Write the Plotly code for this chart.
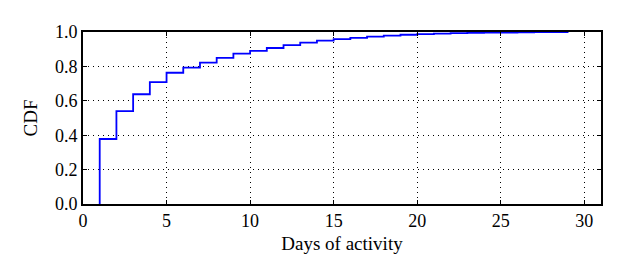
import plotly.graph_objects as go

days = list(range(1, 30))
cdf = [0.378, 0.540, 0.638, 0.709, 0.763, 0.793, 0.822, 0.849, 0.874, 0.890,
       0.907, 0.924, 0.938, 0.950, 0.958, 0.966, 0.973, 0.979, 0.984, 0.988,
       0.991, 0.993, 0.995, 0.996, 0.997, 0.998, 0.999, 0.9995, 1.0]
x_ticks = [0, 5, 10, 15, 20, 25, 30]
y_ticks = [0.0, 0.2, 0.4, 0.6, 0.8, 1.0]

fig = go.Figure()
fig.add_trace(go.Scatter(
    x=[days[0]] + days, y=[0] + cdf, mode="lines",
    line=dict(color="#0000ff", width=1.8, shape="hv"),
    showlegend=False,
))

family = "Liberation Serif, Times New Roman, serif"
tick_font = dict(family=family, size=18, color="black")
title_font = dict(family=family, size=19, color="black")
axis_common = dict(
    showline=True, linecolor="black", linewidth=1.6, mirror="allticks",
    ticks="inside", ticklen=4, tickcolor="black", tickwidth=1,
    showgrid=True, gridcolor="black", griddash="1px,4px", gridwidth=1.2,
    zeroline=False, tickfont=tick_font,
)
fig.update_xaxes(range=[0, 31], tickvals=x_ticks, ticktext=[str(v) for v in x_ticks],
                 title=dict(text="Days of activity", font=title_font, standoff=6), **axis_common)
fig.update_yaxes(range=[0, 1], tickvals=y_ticks, ticktext=[f"{v:.1f}" for v in y_ticks],
                 title=dict(text="CDF", font=title_font, standoff=12), **axis_common)
fig.update_layout(
    width=607, height=264,
    margin=dict(l=75, r=14, t=24, b=68, autoexpand=False),
    paper_bgcolor="white", plot_bgcolor="white",
    font=tick_font,
)
fig.write_html("out.html")
